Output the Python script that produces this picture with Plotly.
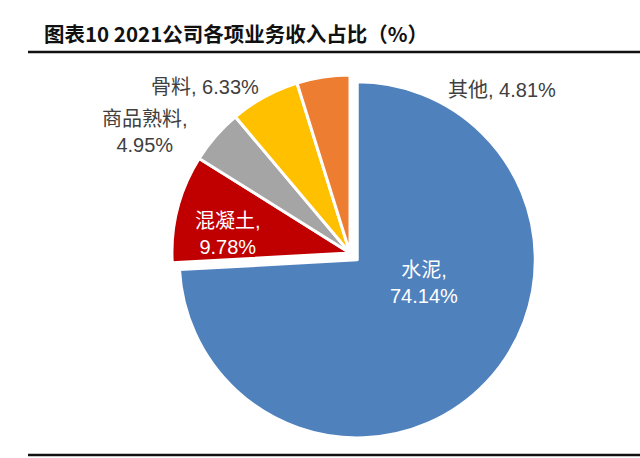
import plotly.graph_objects as go

# ---- data ----
categories = ["水泥", "混凝土", "商品熟料", "骨料", "其他"]
shares = [74.14, 9.78, 4.95, 6.33, 4.81]
title_text = "图表10 2021公司各项业务收入占比（%）"

# ---- styles ----
colors = ["#4F81BD", "#C00000", "#A5A5A5", "#FFC000", "#ED7D31"]
pulls = [0.056, 0, 0, 0, 0]
W, H = 640, 458

# label placement (pixel centres) and style per slice
label_pos = [(424, 283), (228, 234), (145, 132), (205, 87), (502, 90)]
label_break = [True, True, True, False, False]
label_color = ["white", "white", "#404040", "#404040", "#404040"]

fig = go.Figure()
fig.add_trace(go.Pie(
    labels=categories,
    values=shares,
    sort=False,
    direction="clockwise",
    rotation=0,
    pull=pulls,
    marker=dict(colors=colors, line=dict(color="white", width=3)),
    textinfo="none",
    hoverinfo="label+value",
    showlegend=False,
    domain=dict(x=[162 / W, 538 / W], y=[17 / H, 393 / H]),
))

annotations = []
for cat, val, (px, py), br, col in zip(categories, shares, label_pos, label_break, label_color):
    sep = ",<br>" if br else ", "
    annotations.append(dict(
        x=px / W, y=1 - py / H, xref="paper", yref="paper",
        text=f"{cat}{sep}{val:.2f}%", showarrow=False,
        xanchor="center", yanchor="middle", align="center",
        font=dict(family="Liberation Sans, Noto Sans CJK SC", size=20, color=col),
    ))

annotations.append(dict(
    x=42 / W, y=1 - 33 / H, xref="paper", yref="paper",
    text=f"<b>{title_text}</b>", showarrow=False,
    xanchor="left", yanchor="middle",
    font=dict(family="Noto Sans CJK SC", size=20.5, color="#111111"),
))

shapes = [
    dict(type="line", xref="paper", yref="paper", x0=28 / W, x1=1, y0=1 - 52 / H, y1=1 - 52 / H,
         line=dict(color="#111111", width=2.5)),
    dict(type="line", xref="paper", yref="paper", x0=28 / W, x1=1, y0=1 - 455 / H, y1=1 - 455 / H,
         line=dict(color="#111111", width=2.5)),
]

fig.update_layout(
    width=W, height=H,
    margin=dict(l=0, r=0, t=0, b=0),
    paper_bgcolor="white", plot_bgcolor="white",
    annotations=annotations, shapes=shapes,
)

fig.write_html("out.html")
